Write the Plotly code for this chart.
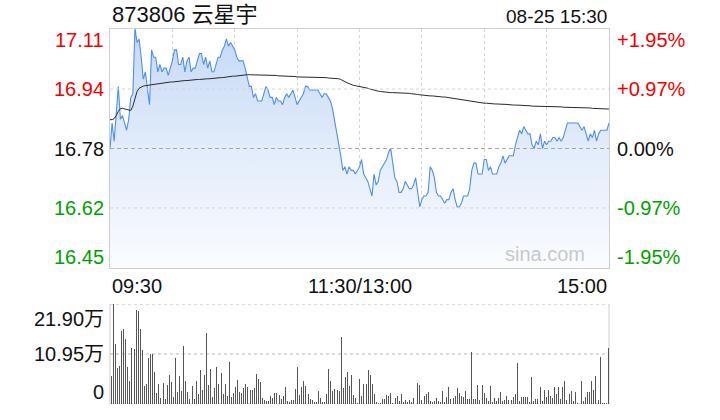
import plotly.graph_objects as go

# ---------------- data ----------------
title_text = "873806 云星宇"
date_text = "08-25 15:30"
prev_close = 16.78

price = [
    16.78, 16.85, 16.80, 16.87, 16.95, 16.86, 16.87, 16.85, 16.83, 16.86,
    16.92, 16.93, 17.11, 17.07, 17.08, 17.03, 16.97, 16.99, 16.95, 16.90,
    17.05, 17.03, 17.03, 16.99, 17.01, 16.99, 17.00, 17.00, 16.98, 17.00,
    17.02, 17.05, 17.05, 17.01, 17.01, 17.03, 16.99, 17.02, 17.03, 16.99,
    17.00, 17.00, 17.02, 17.04, 17.04, 17.01, 17.03, 17.00, 17.02, 16.99,
    16.99, 17.01, 17.03, 17.03, 17.05, 17.06, 17.08, 17.06, 17.07, 17.06,
    17.05, 17.03, 17.02, 17.02, 17.02, 17.00, 16.97, 16.95, 16.95, 16.92,
    16.93, 16.91, 16.91, 16.91, 16.93, 16.95, 16.94, 16.92, 16.92, 16.90,
    16.92, 16.91, 16.91, 16.90, 16.92, 16.93, 16.92, 16.93, 16.94, 16.92,
    16.90, 16.91, 16.92, 16.93, 16.95, 16.95, 16.94, 16.94, 16.94, 16.94,
    16.94, 16.93, 16.92, 16.93, 16.93, 16.92, 16.91, 16.89, 16.86, 16.83,
    16.80, 16.76, 16.72, 16.73, 16.71, 16.73, 16.72, 16.72, 16.71, 16.72,
    16.73, 16.75, 16.71, 16.70, 16.69, 16.67, 16.65, 16.71, 16.68, 16.69,
    16.72, 16.73, 16.74, 16.75, 16.77, 16.78, 16.74, 16.70, 16.69, 16.66,
    16.66, 16.67, 16.69, 16.68, 16.67, 16.67, 16.68, 16.70, 16.66, 16.62,
    16.64, 16.65, 16.65, 16.66, 16.73, 16.72, 16.70, 16.66, 16.65, 16.65,
    16.64, 16.63, 16.64, 16.64, 16.66, 16.67, 16.64, 16.62, 16.62, 16.63,
    16.65, 16.65, 16.65, 16.67, 16.72, 16.74, 16.74, 16.71, 16.71, 16.71,
    16.75, 16.75, 16.72, 16.73, 16.71, 16.71, 16.71, 16.73, 16.74, 16.76,
    16.74, 16.75, 16.76, 16.76, 16.76, 16.79, 16.81, 16.83, 16.82, 16.84,
    16.83, 16.82, 16.82, 16.79, 16.78, 16.80, 16.79, 16.82, 16.78, 16.80,
    16.79, 16.80, 16.80, 16.81, 16.81, 16.80, 16.81, 16.80, 16.81, 16.83,
    16.85, 16.85, 16.85, 16.85, 16.85, 16.85, 16.84, 16.83, 16.84, 16.82,
    16.80, 16.82, 16.81, 16.83, 16.80, 16.82, 16.83, 16.83, 16.83, 16.83,
    16.85,
]

avg_price = [
    16.859, 16.859, 16.862, 16.870, 16.882, 16.889, 16.890, 16.889, 16.887, 16.885,
    16.884, 16.896, 16.918, 16.936, 16.945, 16.949, 16.951, 16.952, 16.953, 16.954,
    16.954, 16.955, 16.956, 16.957, 16.958, 16.958, 16.959, 16.960, 16.961, 16.962,
    16.962, 16.963, 16.964, 16.964, 16.965, 16.965, 16.966, 16.966, 16.967, 16.967,
    16.968, 16.968, 16.969, 16.969, 16.970, 16.970, 16.971, 16.971, 16.971, 16.972,
    16.972, 16.973, 16.973, 16.974, 16.974, 16.975, 16.976, 16.977, 16.977, 16.978,
    16.978, 16.979, 16.979, 16.980, 16.981, 16.982, 16.982, 16.982, 16.982, 16.982,
    16.982, 16.982, 16.982, 16.981, 16.981, 16.981, 16.981, 16.980, 16.980, 16.980,
    16.980, 16.979, 16.979, 16.979, 16.978, 16.978, 16.978, 16.977, 16.977, 16.977,
    16.976, 16.976, 16.976, 16.976, 16.976, 16.975, 16.975, 16.975, 16.975, 16.974,
    16.974, 16.974, 16.974, 16.974, 16.974, 16.973, 16.973, 16.972, 16.972, 16.971,
    16.971, 16.969, 16.967, 16.963, 16.960, 16.957, 16.955, 16.953, 16.952, 16.951,
    16.950, 16.950, 16.949, 16.947, 16.945, 16.943, 16.941, 16.939, 16.938, 16.937,
    16.936, 16.935, 16.934, 16.934, 16.934, 16.933, 16.933, 16.933, 16.933, 16.933,
    16.932, 16.932, 16.932, 16.931, 16.931, 16.930, 16.930, 16.929, 16.928, 16.927,
    16.926, 16.925, 16.925, 16.924, 16.924, 16.924, 16.923, 16.923, 16.923, 16.922,
    16.921, 16.921, 16.920, 16.920, 16.919, 16.918, 16.916, 16.915, 16.914, 16.913,
    16.912, 16.912, 16.911, 16.911, 16.909, 16.908, 16.907, 16.905, 16.905, 16.904,
    16.904, 16.904, 16.903, 16.903, 16.902, 16.902, 16.902, 16.901, 16.901, 16.901,
    16.901, 16.900, 16.900, 16.900, 16.899, 16.899, 16.899, 16.898, 16.898, 16.898,
    16.897, 16.897, 16.897, 16.896, 16.896, 16.896, 16.896, 16.896, 16.895, 16.895,
    16.895, 16.895, 16.895, 16.895, 16.894, 16.894, 16.894, 16.894, 16.893, 16.893,
    16.893, 16.893, 16.893, 16.893, 16.892, 16.892, 16.892, 16.892, 16.891, 16.891,
    16.891, 16.891, 16.890, 16.890, 16.890, 16.889, 16.889, 16.889, 16.889, 16.888,
    16.888,
]

# volume in 万 (10k shares)
volume = [
    6.13, 21.90, 13.14, 7.88, 8.32, 15.99, 16.43, 14.24, 8.10, 5.04,
    12.26, 12.05, 20.59, 20.37, 16.43, 11.83, 3.94, 4.38, 10.07, 10.95,
    10.95, 7.01, 2.41, 4.38, 1.31, 4.60, 1.10, 4.16, 6.35, 4.82,
    1.53, 10.07, 2.63, 6.13, 2.85, 12.70, 5.04, 2.63, 1.10, 3.87,
    1.10, 5.04, 2.19, 7.45, 3.07, 6.35, 15.55, 4.16, 7.67, 1.53,
    3.50, 8.10, 4.38, 6.79, 2.19, 4.38, 1.75, 9.20, 1.53, 2.41,
    3.72, 5.26, 2.63, 2.41, 3.50, 4.38, 3.72, 3.07, 3.07, 3.50,
    6.57, 5.48, 4.82, 1.31, 0.88, 0.66, 0.66, 1.75, 1.31, 2.41,
    2.41, 1.97, 1.10, 1.75, 3.72, 0.66, 0.44, 0.88, 0.88, 3.29,
    8.10, 1.97, 3.72, 5.04, 3.94, 2.19, 1.10, 0.88, 0.44, 0.44,
    2.85, 1.31, 0.44, 0.44, 2.19, 7.67, 5.04, 2.85, 3.29, 3.07,
    2.85, 14.67, 3.50, 5.91, 7.01, 3.94, 6.35, 1.97, 1.31, 0.22,
    5.48, 1.75, 4.38, 4.38, 7.45, 6.35, 4.38, 2.19, 0.44, 0.22,
    0.22, 1.10, 1.10, 1.97, 1.75, 2.41, 0.22, 1.31, 1.75, 0.66,
    2.19, 0.44, 0.88, 0.44, 0.88, 0.44, 1.31, 0.10, 4.60, 4.16,
    0.88, 1.75, 2.19, 2.63, 0.66, 0.44, 0.66, 1.31, 0.66, 0.44,
    2.85, 0.44, 1.53, 3.72, 1.10, 1.31, 1.75, 3.50, 2.41, 1.75,
    1.53, 2.85, 1.10, 1.10, 11.39, 1.10, 1.10, 4.16, 0.88, 4.16,
    2.41, 1.31, 0.66, 3.94, 0.44, 1.31, 0.66, 1.31, 2.63, 0.66,
    0.88, 1.75, 0.88, 0.88, 1.53, 2.19, 8.98, 0.66, 1.53, 1.53,
    1.53, 1.53, 0.44, 5.91, 0.66, 1.10, 1.10, 3.72, 0.66, 3.07,
    1.53, 3.07, 1.75, 1.31, 3.72, 2.19, 3.72, 1.10, 3.72, 5.04,
    0.88, 2.19, 2.85, 0.66, 2.63, 0.22, 0.10, 5.04, 0.66, 1.53,
    2.63, 2.63, 5.04, 3.07, 6.13, 0.88, 10.29, 0.22, 0.22, 0.22,
    12.26,
]

left_labels = ["17.11", "16.94", "16.78", "16.62", "16.45"]
right_labels = ["+1.95%", "+0.97%", "0.00%", "-0.97%", "-1.95%"]
label_pcts = [0.0195, 0.0097, 0.0, -0.0097, -0.0195]
vol_labels = ["21.90万", "10.95万", "0"]
vol_ticks = [21.90, 10.95, 0.0]
time_labels = ["09:30", "11:30/13:00", "15:00"]
time_ticks = [0, 120, 240]
grid_minutes = [30, 60, 90, 120, 150, 180, 210]

# ---------------- styling ----------------
RED = "#f20000"
GREEN = "#009f00"
BLACK = "#111111"
FONT = "Liberation Sans, Arial, Noto Sans CJK SC"
LINE_BLUE = "#4f8ef2"

n = len(price)
x = list(range(n))
vol_max = vol_ticks[0]
levels = [prev_close * (1 + p) for p in label_pcts]
y_top, y_bot = levels[0], levels[-1]

fig = go.Figure()

fig.add_trace(go.Scatter(
    x=x, y=price, mode="lines",
    line=dict(color=LINE_BLUE, width=1.1),
    fill="tozeroy",
    fillgradient=dict(
        type="vertical", start=y_bot, stop=y_top,
        colorscale=[[0, "rgba(250,252,255,1)"], [0.5, "rgba(226,236,251,1)"],
                    [1, "rgba(196,216,246,1)"]],
    ),
    xaxis="x", yaxis="y", hoverinfo="skip", showlegend=False,
))
fig.add_trace(go.Scatter(
    x=x, y=avg_price, mode="lines",
    line=dict(color="#2a2a2a", width=1),
    xaxis="x", yaxis="y", hoverinfo="skip", showlegend=False,
))
fig.add_trace(go.Bar(
    x=x, y=volume, width=0.5, marker=dict(color="#555555", line=dict(width=0)),
    xaxis="x2", yaxis="y2", hoverinfo="skip", showlegend=False,
))

# ---------------- layout ----------------
L, R, T, B = 110, 111, 29, 16
W, H = 720, 420
ph = H - T - B
pw = W - L - R


def py(ypix):
    return (H - B - ypix) / ph


def px(xpix):
    return (xpix - L) / pw


price_dom = [py(268), 1.0]
vol_dom = [0.0, py(304)]

fig.update_layout(
    width=W, height=H, autosize=False,
    margin=dict(l=L, r=R, t=T, b=B, pad=0),
    paper_bgcolor="white", plot_bgcolor="white",
    bargap=0,
    xaxis=dict(domain=[0, 1], range=[0, n - 1], anchor="y",
               tickvals=grid_minutes, showticklabels=False, ticks="",
               showgrid=True, gridcolor="#d4d4d4", griddash="dot", gridwidth=1,
               showline=True, mirror=True, linecolor="#cfcfcf", linewidth=1,
               zeroline=False, fixedrange=True),
    yaxis=dict(domain=price_dom, range=[y_bot, y_top], anchor="x",
               showticklabels=False, ticks="", showgrid=False,
               showline=True, mirror=True, linecolor="#cfcfcf", linewidth=1,
               zeroline=False, fixedrange=True),
    xaxis2=dict(domain=[0, 1], range=[-0.6, n - 0.7], anchor="y2",
                showticklabels=False, ticks="", showgrid=False,
                showline=False, zeroline=False, fixedrange=True),
    yaxis2=dict(domain=vol_dom, range=[0, vol_max], anchor="x2",
                showticklabels=False, ticks="", showgrid=False,
                showline=False, zeroline=False, fixedrange=True),
    font=dict(family=FONT, size=20, color=BLACK),
)

shapes = []
# horizontal grid lines in price panel
for lv, pct in zip(levels[1:-1], label_pcts[1:-1]):
    if pct == 0:
        shapes.append(dict(type="line", xref="x domain", yref="y", x0=0, x1=1,
                           y0=lv, y1=lv, line=dict(color="#a8a8a8", width=1, dash="4px,3px")))
    else:
        shapes.append(dict(type="line", xref="x domain", yref="y", x0=0, x1=1,
                           y0=lv, y1=lv, line=dict(color="#d4d4d4", width=1, dash="dot")))
# volume panel grid + borders (drawn beneath the bars)
for v in vol_ticks:
    shapes.append(dict(type="line", xref="x2 domain", yref="y2", x0=0, x1=1, layer="below",
                       y0=v, y1=v, line=dict(color="#d0d0d0", width=1.5, dash="dot")))
for xd in (0, 1):
    shapes.append(dict(type="line", xref="x2 domain", yref="y2", x0=xd, x1=xd, layer="below",
                       y0=0, y1=vol_max, line=dict(color="#cfcfcf", width=1)))
fig.update_layout(shapes=shapes)

ann = []
# title & date
ann.append(dict(text=title_text, xref="paper", yref="paper", x=0, y=py(15),
                xanchor="left", yanchor="middle", showarrow=False,
                font=dict(size=22, color=BLACK)))
ann.append(dict(text=date_text, xref="paper", yref="paper", x=1, y=py(16),
                xanchor="right", yanchor="middle", showarrow=False,
                font=dict(size=19, color=BLACK)))
# price / percent labels
shifts = [-11, 0, 0, 0, 11]
for lbl, rl, lv, pct, sh in zip(left_labels, right_labels, levels, label_pcts, shifts):
    col = RED if pct > 0 else (GREEN if pct < 0 else BLACK)
    ann.append(dict(text=lbl, xref="paper", yref="y", x=px(106), y=lv, yshift=sh,
                    xanchor="right", yanchor="middle", showarrow=False,
                    font=dict(size=20, color=col)))
    ann.append(dict(text=rl, xref="paper", yref="y", x=px(615), y=lv, yshift=sh,
                    xanchor="left", yanchor="middle", showarrow=False,
                    font=dict(size=20, color=col)))
# volume labels
vshifts = [-15, 0, 12]
for lbl, v, sh in zip(vol_labels, vol_ticks, vshifts):
    ann.append(dict(text=lbl, xref="paper", yref="y2", x=px(106), y=v, yshift=sh,
                    xanchor="right", yanchor="middle", showarrow=False,
                    font=dict(size=20, color=BLACK)))
# time labels
anchors = ["left", "center", "right"]
for lbl, t, a in zip(time_labels, time_ticks, anchors):
    ann.append(dict(text=lbl, xref="x", yref="paper", x=t, y=py(286),
                    xanchor=a, yanchor="middle", showarrow=False,
                    font=dict(size=20, color=BLACK)))
# watermark
ann.append(dict(text="sina.com", xref="paper", yref="paper", x=px(587), y=py(254),
                xanchor="right", yanchor="middle", showarrow=False,
                font=dict(size=20, color="#c9c9c9")))
fig.update_layout(annotations=ann)

fig.write_html(
    "out.html",
    config={"staticPlot": True, "displayModeBar": False},
    post_script="document.body.style.margin='0';document.body.style.overflow='hidden';",
)
